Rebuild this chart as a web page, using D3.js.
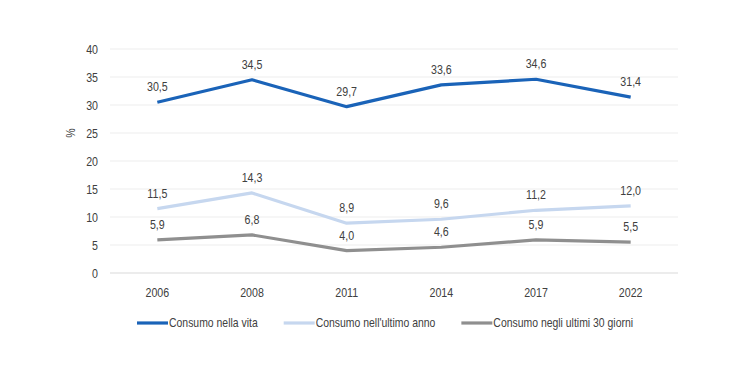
<!DOCTYPE html>
<html>
<head>
<meta charset="utf-8">
<script src="https://cdn.jsdelivr.net/npm/d3@7"></script>
<style>
  body { margin: 0; background: #fff; }
  svg text { font-family: "Liberation Sans", Arial, sans-serif; fill: #404040; }
</style>
</head>
<body>
<svg id="chart" width="750" height="375"></svg>
<script>
const years = ['2006', '2008', '2011', '2014', '2017', '2022'];
const vita = [30.5, 34.5, 29.7, 33.6, 34.6, 31.4];
const anno = [11.5, 14.3, 8.9, 9.6, 11.2, 12.0];
const giorni = [5.9, 6.8, 4.0, 4.6, 5.9, 5.5];
const yTicks = [0, 5, 10, 15, 20, 25, 30, 35, 40];

const series = [
  { name: 'Consumo nella vita', values: vita, color: '#1a63b8' },
  { name: "Consumo nell'ultimo anno", values: anno, color: '#c6d7ef' },
  { name: 'Consumo negli ultimi 30 giorni', values: giorni, color: '#8f8f8f' }
];

const svg = d3.select('#chart');
const plotLeft = 110, plotRight = 678, plotTop = 49, plotBottom = 273;
const narrow = 0.82; // squeeze to look like Arial Narrow

const x = d3.scaleBand().domain(years).range([plotLeft, plotRight]);
const y = d3.scaleLinear().domain([0, 40]).range([plotBottom, plotTop]);
const cx = d => x(d) + x.bandwidth() / 2;

function place(sel, fx, fy, k) {
  return sel.attr('transform', (d, i) => 'translate(' + fx(d, i) + ',' + fy(d, i) + ') scale(' + (k || narrow) + ',1)');
}

// gridlines
svg.append('g')
  .selectAll('line')
  .data(yTicks)
  .enter().append('line')
  .attr('x1', plotLeft).attr('x2', plotRight)
  .attr('y1', d => y(d)).attr('y2', d => y(d))
  .style('stroke', d => d === 0 ? '#d9d9d9' : '#ededed')
  .style('stroke-width', 1);

// y axis labels
place(svg.append('g')
  .selectAll('text')
  .data(yTicks)
  .enter().append('text'), d => 98, d => y(d) + 5)
  .attr('text-anchor', 'end')
  .style('font-size', '13px')
  .text(d => d);

svg.append('text')
  .attr('transform', 'translate(75,' + ((plotTop + plotBottom) / 2 - 28) + ') rotate(-90) scale(' + narrow + ',1)')
  .attr('text-anchor', 'middle')
  .style('font-size', '13px')
  .text('%');

// x axis labels
place(svg.append('g')
  .selectAll('text')
  .data(years)
  .enter().append('text'), d => cx(d), d => 297)
  .attr('text-anchor', 'middle')
  .style('font-size', '13px')
  .text(d => d);

const line = d3.line()
  .x((d, i) => cx(years[i]))
  .y(d => y(d));

series.forEach(s => {
  svg.append('path')
    .datum(s.values)
    .attr('d', line)
    .style('fill', 'none')
    .style('stroke', s.color)
    .style('stroke-width', 3.2)
    .style('stroke-linejoin', 'round');

  place(svg.append('g')
    .selectAll('text')
    .data(s.values)
    .enter().append('text'), (d, i) => cx(years[i]), d => y(d) - 11)
    .attr('text-anchor', 'middle')
    .style('font-size', '13px')
    .text(d => d.toFixed(1).replace('.', ','));
});

// legend - laid out left to right from measured text widths
const legendK = 0.87;
let lx = 137;
series.forEach((s, i) => {
  const g = svg.append('g').attr('transform', 'translate(' + lx + ',323)');
  g.append('line')
    .attr('x1', 0).attr('x2', 31)
    .style('stroke', s.color)
    .style('stroke-width', 3.2);
  const t = g.append('text')
    .attr('transform', 'translate(32,4) scale(' + legendK + ',1)')
    .style('font-size', '12px')
    .text(s.name);
  lx += 32 + t.node().getComputedTextLength() * legendK + 26;
});
</script>
</body>
</html>
